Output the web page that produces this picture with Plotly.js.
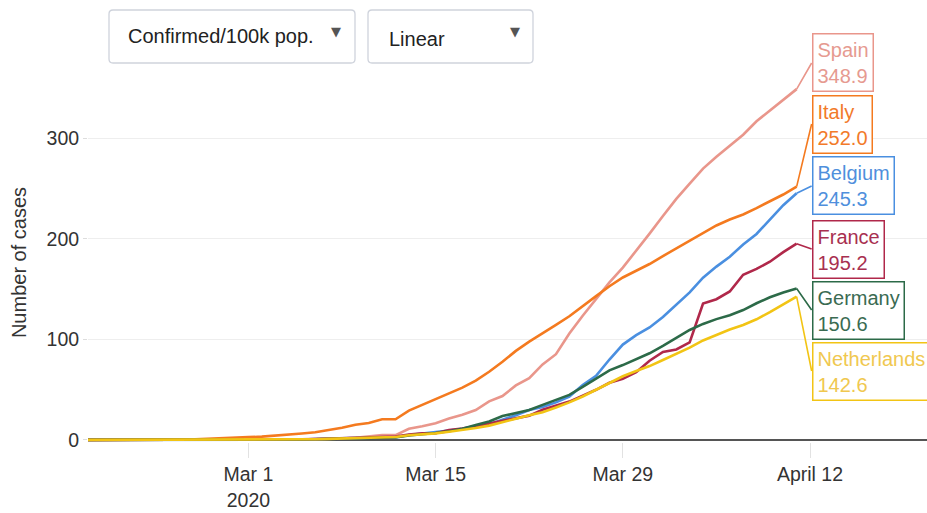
<!DOCTYPE html>
<html>
<head>
<meta charset="utf-8">
<script src="https://cdn.plot.ly/plotly-3.0.1.min.js"></script>
<style>html,body{margin:0;padding:0;background:#fff;}#chart{width:927px;height:513px;}</style>
</head>
<body>
<div id="chart"></div>
<script>
// Dates: Feb 15 .. Apr 11, 2020
const dates = [
 '2020-02-15','2020-02-16','2020-02-17','2020-02-18','2020-02-19','2020-02-20','2020-02-21',
 '2020-02-22','2020-02-23','2020-02-24','2020-02-25','2020-02-26','2020-02-27','2020-02-28','2020-02-29',
 '2020-03-01','2020-03-02','2020-03-03','2020-03-04','2020-03-05','2020-03-06','2020-03-07',
 '2020-03-08','2020-03-09','2020-03-10','2020-03-11','2020-03-12','2020-03-13','2020-03-14',
 '2020-03-15','2020-03-16','2020-03-17','2020-03-18','2020-03-19','2020-03-20','2020-03-21',
 '2020-03-22','2020-03-23','2020-03-24','2020-03-25','2020-03-26','2020-03-27','2020-03-28',
 '2020-03-29','2020-03-30','2020-03-31','2020-04-01','2020-04-02','2020-04-03','2020-04-04',
 '2020-04-05','2020-04-06','2020-04-07','2020-04-08','2020-04-09','2020-04-10','2020-04-11'
];

const spain = [0,0,0,0,0,0,0,0,0,0,0.01,0.03,0.03,0.07,0.1,
 0.18,0.26,0.35,0.47,0.55,0.86,1.07,1.44,2.3,3.63,4.87,4.87,11.2,13.7,
 16.7,21.3,25.1,29.8,38.4,43.7,54.3,61.5,75.2,85.3,105.9,123.6,140.6,156.7,
 171.4,188.1,205.2,222.7,239.7,255.0,269.9,281.6,292.4,303.6,317.0,327.7,338.5,348.9];

const italy = [0,0,0,0,0,0,0.03,0.13,0.25,0.38,0.53,0.75,1.08,1.47,1.87,
 2.8,3.37,4.14,5.11,6.38,7.67,9.73,12.2,15.2,16.8,20.6,20.6,29.2,35.0,
 40.9,46.3,52.1,59.1,67.9,77.8,88.6,97.8,105.7,114.4,123.0,133.3,143.1,152.9,
 161.6,168.3,175.0,182.9,190.6,198.2,206.1,213.3,219.2,224.3,230.6,237.6,244.1,252.0];

const belgium = [0.01,0.01,0.01,0.01,0.01,0.01,0.01,0.01,0.01,0.01,0.01,0.01,0.01,0.01,0.01,
 0.02,0.07,0.11,0.2,0.44,0.95,1.48,1.75,2.09,2.34,2.75,2.75,4.9,6.0,
 7.8,9.3,10.9,13.0,15.7,19.8,24.6,29.8,32.8,37.4,43.2,54.6,63.8,80.0,
 94.9,104.2,111.9,122.3,134.4,146.8,161.4,172.4,182.3,194.3,204.9,218.8,233.5,245.3];

const france = [0.02,0.02,0.02,0.02,0.02,0.02,0.02,0.02,0.02,0.02,0.02,0.03,0.06,0.09,0.15,
 0.19,0.29,0.3,0.43,0.57,0.98,1.43,1.7,1.82,2.68,3.42,3.42,5.49,6.71,
 6.76,9.97,11.5,13.6,16.4,19.0,21.6,24.2,30.0,33.8,38.2,44.1,49.9,56.9,
 60.8,67.4,78.8,87.5,90.0,97.0,135.6,140.0,147.7,164.3,170.1,177.3,186.8,195.2];

const germany = [0.02,0.02,0.02,0.02,0.02,0.02,0.02,0.02,0.02,0.02,0.02,0.03,0.06,0.06,0.09,
 0.16,0.19,0.24,0.31,0.58,0.8,0.96,1.25,1.41,1.75,2.29,2.49,4.41,5.5,
 6.96,8.73,11.1,14.8,18.4,23.8,26.7,29.9,34.9,39.6,44.8,52.7,61.1,69.3,
 74.5,80.3,86.2,93.5,101.8,109.4,115.4,120.2,124.1,129.2,136.0,141.9,146.7,150.6];

const netherlands = [0,0,0,0,0,0,0,0,0,0,0,0,0.01,0.01,0.03,
 0.06,0.1,0.14,0.22,0.48,0.74,1.09,1.54,1.86,2.22,2.92,2.92,4.68,5.58,
 6.6,8.22,9.93,11.9,14.3,17.4,21.1,24.5,27.6,32.4,37.4,43.3,50.2,57.0,
 63.4,68.6,73.5,79.5,85.8,91.8,99.0,104.5,109.8,114.4,120.0,127.1,134.9,142.6];

const countries = ['Spain','Italy','Belgium','France','Germany','Netherlands'];
const seriesList = [spain, italy, belgium, france, germany, netherlands];
const colors = ['#E9968B','#F47A1F','#4A8FE0','#B0284A','#2C6A48','#F2C414'];
const labelColors = ['#E69A90','#F27A2A','#4F8FDC','#A83050','#3A6B52','#F0C850'];

const tickVals = ['2020-03-01','2020-03-15','2020-03-29','2020-04-12'];
const tickText = ['Mar 1<br>2020','Mar 15','Mar 29','April 12'];

// layout geometry
const W = 927, H = 513;
const mL = 88, mR = 0, mT = 83, mB = 71;
const yMin = -2, yMax = 355;
const plotH = H - mT - mB, plotW = W - mL - mR;
function yPx(v){ return mT + (yMax - v) / (yMax - yMin) * plotH; }
function px2paperX(p){ return (p - mL) / plotW; }
function px2paperY(p){ return (H - mB - p) / plotH; }

const FONT = 'Liberation Sans, Arial, sans-serif';

const traces = countries.map((c, i) => ({
  type: 'scatter', mode: 'lines', name: c,
  x: dates, y: seriesList[i],
  line: {color: colors[i], width: 2.6},
  hoverinfo: 'x+y+name'
}));

// label boxes: vertical middle (pixels) of each box
const boxMid = [63, 124, 186, 249, 310, 371];
const annotations = countries.map((c, i) => {
  const last = seriesList[i][seriesList[i].length - 1];
  return {
    x: dates[dates.length - 1], y: last, xref: 'x', yref: 'y',
    text: c + '<br>' + last.toFixed(1),
    showarrow: true, arrowhead: 0, arrowwidth: 1.6, arrowcolor: colors[i],
    ax: 15, ay: boxMid[i] - yPx(last),
    xanchor: 'left', yanchor: 'middle', align: 'left',
    bgcolor: '#ffffff', bordercolor: colors[i], borderwidth: 1.5, borderpad: 4,
    font: {family: FONT, size: 20, color: labelColors[i]}
  };
});

// dropdown-like controls
function roundRect(x0, y0, x1, y1, r){
  const X = px2paperX, Y = px2paperY;
  return 'M' + X(x0 + r) + ',' + Y(y0) +
    ' L' + X(x1 - r) + ',' + Y(y0) +
    ' Q' + X(x1) + ',' + Y(y0) + ' ' + X(x1) + ',' + Y(y0 + r) +
    ' L' + X(x1) + ',' + Y(y1 - r) +
    ' Q' + X(x1) + ',' + Y(y1) + ' ' + X(x1 - r) + ',' + Y(y1) +
    ' L' + X(x0 + r) + ',' + Y(y1) +
    ' Q' + X(x0) + ',' + Y(y1) + ' ' + X(x0) + ',' + Y(y1 - r) +
    ' L' + X(x0) + ',' + Y(y0 + r) +
    ' Q' + X(x0) + ',' + Y(y0) + ' ' + X(x0 + r) + ',' + Y(y0) + ' Z';
}
const dropdowns = [
  {label: 'Confirmed/100k pop.', x0: 109, x1: 355, tx: 126, ty: 36, ax: 336},
  {label: 'Linear', x0: 368, x1: 533, tx: 387, ty: 38.5, ax: 515}
];
const shapes = [];
dropdowns.forEach(d => {
  shapes.push({type: 'path', xref: 'paper', yref: 'paper', path: roundRect(d.x0, 10, d.x1, 63, 4),
    line: {color: '#cfd3dc', width: 1.3}, fillcolor: '#ffffff', layer: 'above'});
  annotations.push({xref: 'paper', yref: 'paper', x: px2paperX(d.tx), y: px2paperY(d.ty),
    xanchor: 'left', yanchor: 'middle', showarrow: false, text: d.label,
    font: {family: FONT, size: 20, color: '#222222'}});
  annotations.push({xref: 'paper', yref: 'paper', x: px2paperX(d.ax), y: px2paperY(32),
    xanchor: 'center', yanchor: 'middle', showarrow: false, text: '▼',
    font: {family: 'DejaVu Sans, sans-serif', size: 13, color: '#555555'}});
});

const layout = {
  width: W, height: H,
  margin: {l: mL, r: mR, t: mT, b: mB, pad: 0},
  paper_bgcolor: '#ffffff', plot_bgcolor: '#ffffff',
  showlegend: false,
  font: {family: FONT, size: 19, color: '#333333'},
  xaxis: {
    type: 'date',
    range: ['2020-02-18', '2020-04-20 18:00'],
    tickvals: tickVals, ticktext: tickText,
    showgrid: false, zeroline: false,
    showline: false,
    ticks: 'outside', ticklen: 15, tickcolor: '#e2e2e2', tickwidth: 1,
    ticklabelstandoff: 0,
    tickfont: {family: FONT, size: 19.5, color: '#333333'}
  },
  yaxis: {
    range: [yMin, yMax],
    tickvals: [0, 100, 200, 300],
    showgrid: true, gridcolor: '#eeeeee', gridwidth: 1,
    zeroline: true, zerolinecolor: '#555555', zerolinewidth: 1.6,
    ticks: 'outside', ticklen: 4, tickcolor: '#dddddd',
    tickfont: {family: FONT, size: 19.5, color: '#333333'},
    title: {text: 'Number of cases', font: {family: FONT, size: 20, color: '#333333'}, standoff: 14}
  },
  shapes: shapes,
  annotations: annotations
};

Plotly.newPlot('chart', traces, layout, {displayModeBar: false, staticPlot: true});
</script>
</body>
</html>
